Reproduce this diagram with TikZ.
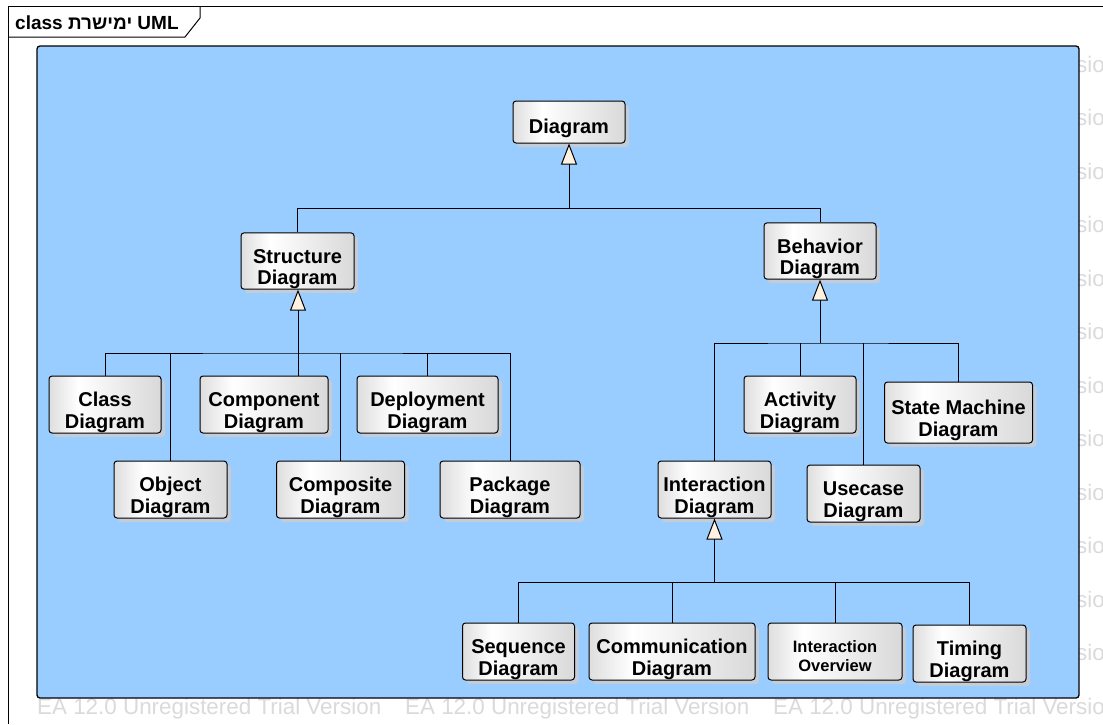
\documentclass[tikz,border=0pt]{standalone}
\usepackage{fontspec}
\setmainfont{Liberation Sans}
\newfontfamily\hebfont[Script=Hebrew]{Liberation Sans}
\TeXXeTstate=1
\usetikzlibrary{arrows.meta,shadows}

\definecolor{canvasblue}{RGB}{153,204,255}
\definecolor{markgray}{RGB}{218,218,218}
\definecolor{tipfill}{RGB}{255,242,224}
\definecolor{shadowgray}{RGB}{196,204,216}

% light gray at the sides, white just left of the middle
\pgfdeclarehorizontalshading{boxshade}{100bp}{color(0bp)=(black!13); color(25bp)=(black!13); color(38bp)=(white); color(75bp)=(black!15); color(100bp)=(black!15)}

\tikzset{
  umlbox/.style={draw=black, line width=1pt, rounded corners=3pt,
    shading=boxshade,
    drop shadow={shadow xshift=4pt, shadow yshift=-4pt, fill=shadowgray, opacity=1},
    align=center, inner sep=0pt,
    font=\bfseries\fontsize{20}{21.5}\selectfont,
    execute at begin node={\rule{0pt}{#1}}},
  umlbox/.default=52pt,
  link/.style={draw=black, line width=1pt},
  gen/.style={link, -{Triangle[length=21pt, width=16pt, fill=tipfill]}},
  wmark/.style={text=markgray, font=\fontsize{22.4}{24}\selectfont, inner sep=0pt, anchor=base west},
}

\begin{document}
\begin{tikzpicture}[x=1pt, y=-1pt]
\useasboundingbox (0,0) rectangle (1103,724);
\fill[white] (0,0) rectangle (1103,724);

% trial watermark rows behind the canvas
\begin{scope}
  \clip (8,6) rectangle (1103,724);
  \foreach \k in {0,...,12}
    \foreach \xx in {37,405,773}
      \node[wmark] (wm-\xx-\k) at (\xx,72+53.5*\k) {EA 12.0 Unregistered Trial Version};
\end{scope}

% diagram frame and name tab
\draw[line width=1pt] (8,724) -- (8,6) -- (1103,6);
\draw[line width=1pt] (8,37) -- (185,37) -- (200,18) -- (200,6);
\node[anchor=base west, inner sep=0pt, font=\bfseries\fontsize{19}{21}\selectfont] (title) at (15,29)
  {class {\hebfont\beginR ימישרת\endR} UML};

% blue canvas
\draw[line width=1.3pt, fill=canvasblue, rounded corners=3pt] (37,46) rectangle (1079,698);

% classes
\node[umlbox=27pt, minimum width=112pt, minimum height=42pt] (diagram) at (569,122) {Diagram};

\node[umlbox, minimum width=113pt, minimum height=56pt] (struct) at (297.5,261) {Structure\\Diagram};
\node[umlbox, minimum width=112pt, minimum height=56pt] (behav) at (820,251) {Behavior\\Diagram};

\node[umlbox, minimum width=112pt, minimum height=57pt] (cls) at (105,404.5) {Class\\Diagram};
\node[umlbox, minimum width=113pt, minimum height=57pt] (obj) at (170.5,489.5) {Object\\Diagram};
\node[umlbox, minimum width=128pt, minimum height=57pt] (comp) at (264,404.5) {Component\\Diagram};
\node[umlbox, minimum width=128pt, minimum height=57pt] (compo) at (340.5,489.5) {Composite\\Diagram};
\node[umlbox, minimum width=141pt, minimum height=57pt] (dep) at (427.5,404.5) {Deployment\\Diagram};
\node[umlbox, minimum width=140pt, minimum height=57pt] (pkg) at (510,489.5) {Package\\Diagram};

\node[umlbox, minimum width=112pt, minimum height=57pt] (act) at (800,404.5) {Activity\\Diagram};
\node[umlbox, minimum width=148pt, minimum height=61pt] (sm) at (958.5,412.5) {State Machine\\Diagram};
\node[umlbox, minimum width=113pt, minimum height=57pt] (inter) at (714.5,489.5) {Interaction\\Diagram};
\node[umlbox, minimum width=113pt, minimum height=57pt] (use) at (863.5,493.5) {Usecase\\Diagram};

\node[umlbox, minimum width=112pt, minimum height=57pt] (seq) at (518.5,651.5) {Sequence\\Diagram};
\node[umlbox, minimum width=166pt, minimum height=57pt] (comm) at (672,651.5) {Communication\\Diagram};
\node[umlbox=41pt, minimum width=134pt, minimum height=57pt, font=\bfseries\fontsize{16.5}{19.5}\selectfont] (io) at (835,651.5) {Interaction\\Overview};
\node[umlbox, minimum width=113pt, minimum height=57pt] (tim) at (969.5,653.5) {Timing\\Diagram};

% Diagram generalizations
\coordinate (j0) at (569,208);
\draw[gen] (j0) -- (diagram.south);
\draw[link] (struct.north) |- (j0);
\draw[link] (behav.north) |- (j0);

% Structure Diagram generalizations
\coordinate (j1) at (298,353);
\draw[gen] (j1) -- (j1 |- struct.south);
\draw[link] (cls.north) |- (j1) -| (pkg.north);
\draw[link] (j1) -- (j1 |- comp.north);
\draw[link] (obj.north) -- (obj.north |- j1);
\draw[link] (compo.north) -- (compo.north |- j1);
\draw[link] (dep.north) -- (dep.north |- j1);

% Behavior Diagram generalizations
\coordinate (j2) at (820,343);
\draw[gen] (j2) -- (behav.south);
\draw[link] (inter.north) |- (j2) -| (sm.north);
\draw[link] (act.north) -- (act.north |- j2);
\draw[link] (use.north) -- (use.north |- j2);

% Interaction Diagram generalizations
\coordinate (j3) at (714.5,582);
\draw[gen] (j3) -- (inter.south);
\draw[link] (seq.north) |- (j3) -| (tim.north);
\draw[link] (comm.north) -- (comm.north |- j3);
\draw[link] (io.north) -- (io.north |- j3);
\end{tikzpicture}
\end{document}
